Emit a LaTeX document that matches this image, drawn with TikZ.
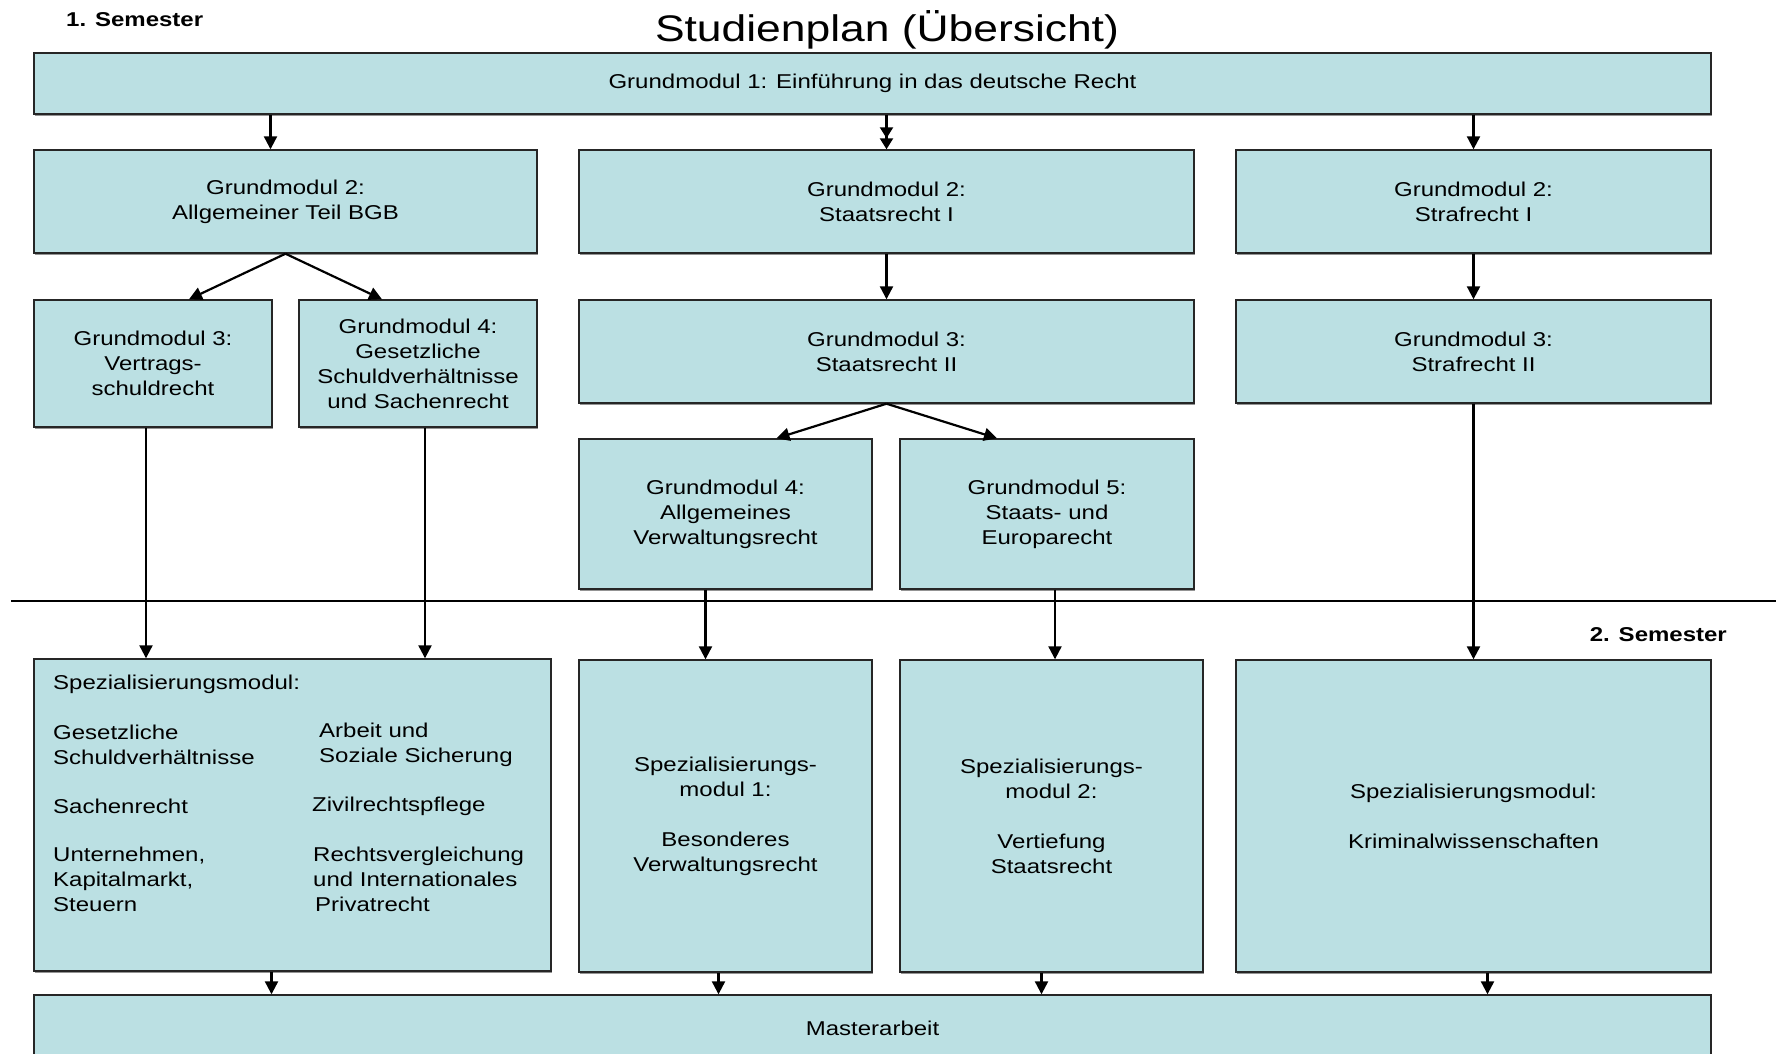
\documentclass[tikz,border=0pt]{standalone}
\usepackage{fontspec}
\setmainfont{Liberation Sans}[FakeStretch=1.2]
\usetikzlibrary{positioning,arrows.meta,shadows}
\definecolor{modfill}{RGB}{187,224,227}

\begin{document}
\begin{tikzpicture}[x=1pt, y=-1pt, font=\fontsize{20}{25}\selectfont,
  main/.style = {draw=black!85, fill=modfill, line width=1.4pt, align=center, inner sep=0pt,
    drop shadow={shadow xshift=1.2pt, shadow yshift=-1.5pt, fill=black!70, opacity=.6}},
  item/.style = {anchor=west, align=left, inner sep=0pt},
  arr/.style = {line width=2.2pt, -{Triangle[length=13pt,width=13pt]}},
  arrd/.style = {line width=2.2pt, -{Triangle[length=11pt,width=13pt]Triangle[length=11pt,width=13pt]}}]
\useasboundingbox (0,0) rectangle (1776,1053);

\node (ti) at (887,30) {\fontsize{37}{40}\selectfont Studienplan (Übersicht)};
\node[anchor=west, inner sep=0pt] (s1) at (66,20) {\bfseries 1. Semester};
\node[anchor=east, inner sep=0pt] (s2) at (1727,635) {\bfseries 2. Semester};

% 1. Semester
\node[main, minimum width=1677pt, minimum height=61pt] (g1) at (872.5,83.5) {Grundmodul 1: Einführung in das deutsche Recht};
\node[main, minimum width=503pt, minimum height=103pt] (bgb2) at (285.5,201.5) {Grundmodul 2:\\Allgemeiner Teil BGB};
\node[main, minimum width=615pt, minimum height=103pt] (st2) at (886.5,201.5) {Grundmodul 2:\\Staatsrecht I};
\node[main, minimum width=475pt, minimum height=103pt] (sf2) at (1473.5,201.5) {Grundmodul 2:\\Strafrecht I};
\node[main, minimum width=238pt, minimum height=127pt] (vs3) at (153,363.5) {Grundmodul 3:\\Vertrags-\\schuldrecht};
\node[main, minimum width=238pt, minimum height=127pt] (sv4) at (418,363.5) {Grundmodul 4:\\Gesetzliche\\Schuldverhältnisse\\und Sachenrecht};
\node[main, minimum width=615pt, minimum height=103pt] (st3) at (886.5,351.5) {Grundmodul 3:\\Staatsrecht II};
\node[main, minimum width=475pt, minimum height=103pt] (sf3) at (1473.5,351.5) {Grundmodul 3:\\Strafrecht II};
\node[main, minimum width=293pt, minimum height=150pt] (vw4) at (725.5,514) {Grundmodul 4:\\Allgemeines\\Verwaltungsrecht};
\node[main, minimum width=294pt, minimum height=150pt] (eu5) at (1047,514) {Grundmodul 5:\\Staats- und\\Europarecht};

\draw[line width=1.4pt] (11,601) -- (1776,601);

% 2. Semester
\node[main, minimum width=517pt, minimum height=312pt] (spz) at (292.5,815) {};
\node[item] (l0) at (53,684) {Spezialisierungsmodul:};
\node[item] (l1) at (53,744.5) {Gesetzliche\\Schuldverhältnisse};
\node[item] (l2) at (53,806) {Sachenrecht};
\node[item] (l3) at (53,879) {Unternehmen,\\Kapitalmarkt,\\Steuern};
\node[item] (r1) at (319,744.5) {Arbeit und\\Soziale Sicherung};
\node[item] (r2) at (312,806) {Zivilrechtspflege};
\node[item] (r3) at (313,879) {Rechtsvergleichung\\und Internationales\\\hspace{2pt}Privatrecht};
\node[main, minimum width=293pt, minimum height=312pt] (sp1) at (725.5,816) {Spezialisierungs-\\modul 1:\\[25pt]Besonderes\\Verwaltungsrecht};
\node[main, minimum width=303pt, minimum height=312pt] (sp2) at (1051.5,816) {Spezialisierungs-\\modul 2:\\[25pt]Vertiefung\\Staatsrecht};
\node[main, minimum width=475pt, minimum height=312pt] (krm) at (1473.5,816) {Spezialisierungsmodul:\\[25pt]Kriminalwissenschaften};
\node[main, minimum width=1677pt, minimum height=66pt] (ma) at (872.5,1028) {Masterarbeit};

\draw[arr] ([xshift=-15pt]bgb2.north |- g1.south) -- ([xshift=-15pt]bgb2.north);
\draw[arrd] (g1.south -| st2.north) -- (st2.north);
\draw[arr] (g1.south -| sf2.north) -- (sf2.north);
\draw[arr] (bgb2.south) -- ([xshift=36pt]vs3.north);
\draw[arr] (bgb2.south) -- ([xshift=-36pt]sv4.north);
\draw[arr] (st2) -- (st3);
\draw[arr] (sf2) -- (sf3);
\draw[arr] (st3.south) -- ([xshift=51pt]vw4.north);
\draw[arr] (st3.south) -- ([xshift=-50pt]eu5.north);
\draw[arr] ([xshift=-7pt]vs3.south) -- ([xshift=-7pt]vs3.south |- spz.north);
\draw[arr] ([xshift=7pt]sv4.south) -- ([xshift=7pt]sv4.south |- spz.north);
\draw[arr] ([xshift=-20pt]vw4.south) -- ([xshift=-20pt]vw4.south |- sp1.north);
\draw[arr] ([xshift=8pt]eu5.south) -- ([xshift=8pt]eu5.south |- sp2.north);
\draw[arr] (sf3) -- (krm);
\draw[arr] ([xshift=-21pt]spz.south) -- ([xshift=-21pt]spz.south |- ma.north);
\draw[arr] ([xshift=-7pt]sp1.south) -- ([xshift=-7pt]sp1.south |- ma.north);
\draw[arr] ([xshift=-10pt]sp2.south) -- ([xshift=-10pt]sp2.south |- ma.north);
\draw[arr] ([xshift=14pt]krm.south) -- ([xshift=14pt]krm.south |- ma.north);
\end{tikzpicture}
\end{document}
